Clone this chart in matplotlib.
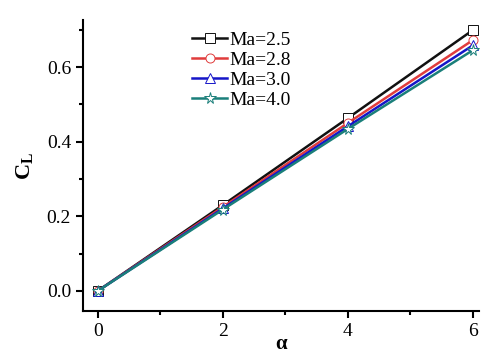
import matplotlib.pyplot as plt
from matplotlib.ticker import MultipleLocator

plt.rcParams['font.family'] = ['Liberation Serif', 'DejaVu Serif']

alpha = [0, 2, 4, 6]
cl_25 = [0.0, 0.230, 0.463, 0.699]
cl_28 = [0.0, 0.225, 0.450, 0.672]
cl_30 = [0.0, 0.221, 0.441, 0.658]
cl_40 = [0.0, 0.218, 0.434, 0.645]
labels = ["Ma=2.5", "Ma=2.8", "Ma=3.0", "Ma=4.0"]
colors = ["#111111", "#e03c3c", "#1515c8", "#1a7f7a"]
markers = ["s", "o", "^", "*"]

fig = plt.figure(figsize=(4.82, 3.54), dpi=100)
ax = fig.add_axes([0.172, 0.1215, 0.822, 0.822])

for ys, lab, c, m in zip([cl_25, cl_28, cl_30, cl_40], labels, colors, markers):
    ax.plot(alpha, ys, color=c, lw=1.8, marker=m, ms=6.5 if m != "*" else 8.5,
            mfc="white", mec=c, mew=0.7, label=lab)

ax.set_xlim(-0.24, 6.1)
ax.set_ylim(-0.054, 0.726)
ax.xaxis.set_major_locator(MultipleLocator(2))
ax.xaxis.set_minor_locator(MultipleLocator(1))
ax.yaxis.set_major_locator(MultipleLocator(0.2))
ax.yaxis.set_minor_locator(MultipleLocator(0.1))
ax.yaxis.set_major_formatter(plt.FormatStrFormatter('%.1f'))
for s in ("top", "right"):
    ax.spines[s].set_visible(False)
for s in ("left", "bottom"):
    ax.spines[s].set_linewidth(1.5)
ax.tick_params(which="major", direction="out", length=5, width=1.5, labelsize=14)
ax.tick_params(which="minor", direction="out", length=3, width=1.5)

ax.set_xlabel("α", fontsize=15, fontweight="bold", labelpad=-4)
ax.set_ylabel("C$_\\mathregular{L}$", fontsize=16, fontweight="bold", labelpad=8)

ax.legend(loc="upper left", bbox_to_anchor=(0.232, 1.02), frameon=False,
          fontsize=14, handlelength=1.8, handletextpad=0.1, labelspacing=0.12)

fig.savefig("out.png", dpi=100)
